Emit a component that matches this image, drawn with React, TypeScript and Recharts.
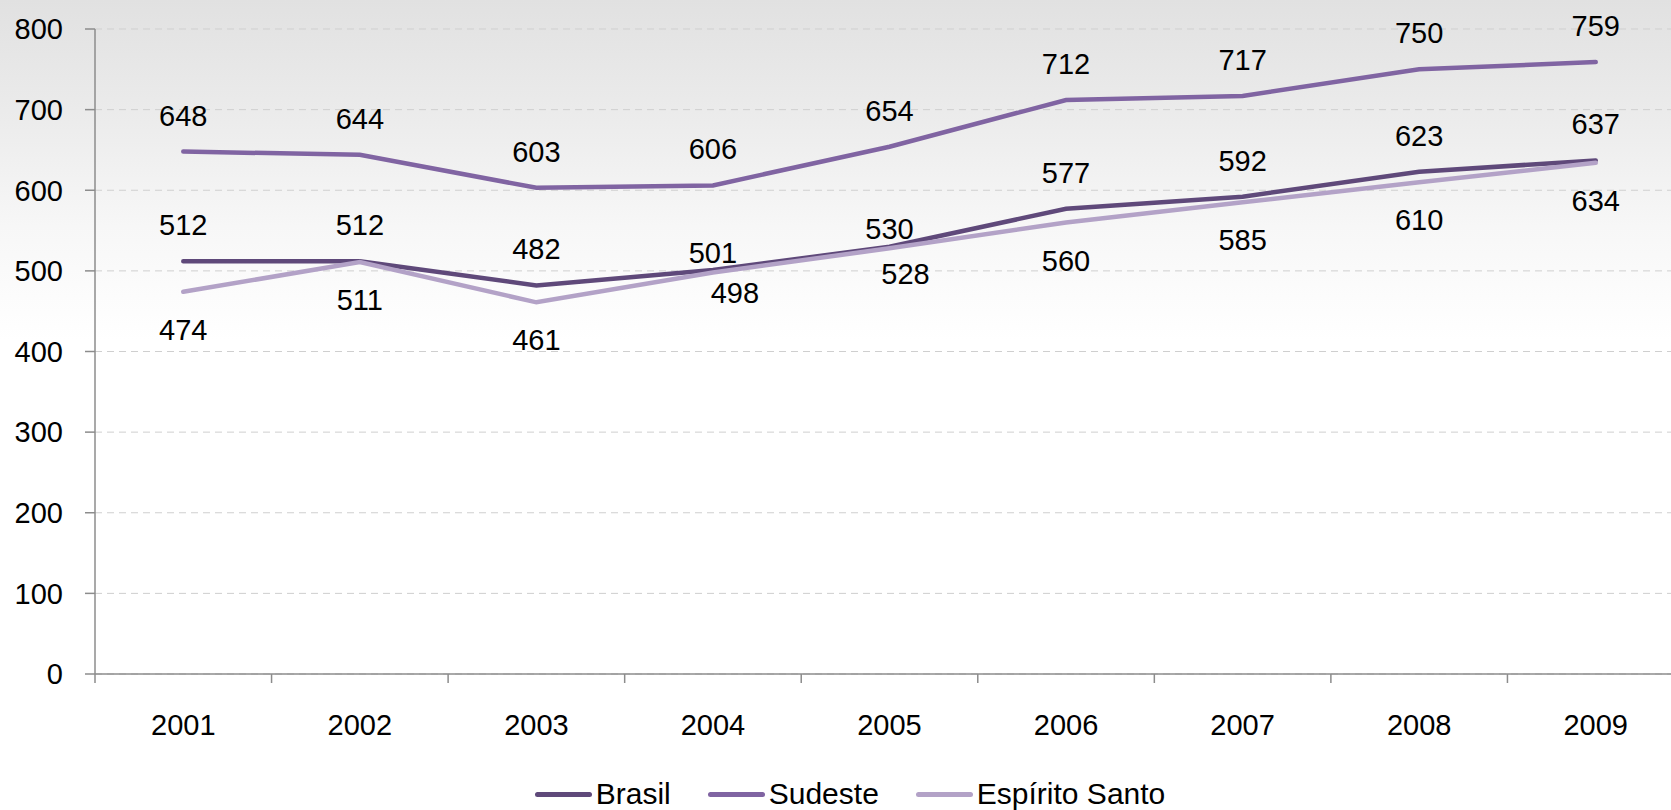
import { LineChart, Line, XAxis, YAxis, CartesianGrid, LabelList } from 'recharts';

const years = ['2001', '2002', '2003', '2004', '2005', '2006', '2007', '2008', '2009'];
const brasil = [512, 512, 482, 501, 530, 577, 592, 623, 637];
const sudeste = [648, 644, 603, 606, 654, 712, 717, 750, 759];
const espiritoSanto = [474, 511, 461, 498, 528, 560, 585, 610, 634];
const yTicks = [0, 100, 200, 300, 400, 500, 600, 700, 800];

const data = years.map((year, i) => ({
    x: i + 0.5,
    year,
    brasil: brasil[i],
    sudeste: sudeste[i],
    es: espiritoSanto[i],
}));

const boundaryTicks = years.map((_, i) => i).concat(years.length);
const centerTicks = years.map((_, i) => i + 0.5);

const series = [
    { key: 'brasil', name: 'Brasil', color: '#5f497a', below: false },
    { key: 'sudeste', name: 'Sudeste', color: '#8064a2', below: false },
    { key: 'es', name: 'Espírito Santo', color: '#b3a2c7', below: true },
];

// a few labels were pushed around by hand in the original to avoid overlap
const labelNudge: Record<string, Record<number, [number, number]>> = {
    brasil: { 3: [0, 19], 4: [0, 18] },
    es: { 3: [22, -17], 4: [16, -12] },
};

const FONT = '"Liberation Sans", Arial, sans-serif';

const makeLabel = (key: string, below: boolean) => (props: any) => {
    const { x, y, value, index } = props;
    const [nx, ny] = labelNudge[key]?.[index] ?? [0, 0];
    const dy = below ? 38 : -36;
    return (
        <text
            x={x + nx}
            y={y + dy + ny}
            textAnchor="middle"
            dominantBaseline="central"
            fontSize={29}
            fontFamily={FONT}
            fill="#000"
        >
            {value}
        </text>
    );
};

const axisColor = '#8c8c8c';
const tickStyle = { fontSize: 29, fill: '#000', fontFamily: FONT };

export default function App() {
    return (
        <div
            style={{
                position: 'absolute',
                left: 0,
                top: 0,
                width: 1671,
                height: 810,
                overflow: 'hidden',
                fontFamily: FONT,
                background: 'linear-gradient(to bottom, #e1e1e1 0%, #ececec 15%, #f7f7f7 28%, #ffffff 42%, #ffffff 100%)',
            }}
        >
            <LineChart width={1700} height={810} data={data} margin={{ top: 29, right: 16, left: 0, bottom: 75 }}>
                <CartesianGrid vertical={false} stroke="#cfcfcf" strokeDasharray="7 5" />
                <XAxis
                    xAxisId="ticks"
                    type="number"
                    dataKey="x"
                    domain={[0, years.length]}
                    ticks={boundaryTicks}
                    height={1}
                    tick={() => <g />}
                    tickSize={9}
                    tickLine={{ stroke: axisColor, strokeWidth: 1.5 }}
                    axisLine={{ stroke: axisColor, strokeWidth: 1.5 }}
                    interval={0}
                />
                <XAxis
                    xAxisId="years"
                    type="number"
                    dataKey="x"
                    domain={[0, years.length]}
                    ticks={centerTicks}
                    tickFormatter={(v: number) => years[Math.floor(v)]}
                    height={60}
                    axisLine={false}
                    tickLine={false}
                    tickSize={9}
                    tickMargin={30}
                    tick={tickStyle}
                    interval={0}
                />
                <YAxis
                    domain={[0, 800]}
                    ticks={yTicks}
                    width={95}
                    tickSize={10}
                    tickMargin={22}
                    tick={tickStyle}
                    stroke={axisColor}
                    strokeWidth={1.5}
                    interval={0}
                />
                {series.map((s) => (
                    <Line
                        key={s.key}
                        xAxisId="years"
                        dataKey={s.key}
                        name={s.name}
                        stroke={s.color}
                        strokeWidth={4.5}
                        strokeLinecap="round"
                        dot={false}
                        isAnimationActive={false}
                    >
                        <LabelList dataKey={s.key} content={makeLabel(s.key, s.below)} />
                    </Line>
                ))}
            </LineChart>
            <div
                style={{
                    position: 'absolute',
                    left: 0,
                    width: 1700,
                    top: 776,
                    display: 'flex',
                    justifyContent: 'center',
                    gap: 37,
                    fontSize: 30,
                    color: '#000',
                    lineHeight: '36px',
                }}
            >
                {series.map((s) => (
                    <div key={s.key} style={{ display: 'flex', alignItems: 'center', gap: 4 }}>
                        <span style={{ display: 'inline-block', width: 57, height: 5, borderRadius: 3, background: s.color }} />
                        <span>{s.name}</span>
                    </div>
                ))}
            </div>
        </div>
    );
}
